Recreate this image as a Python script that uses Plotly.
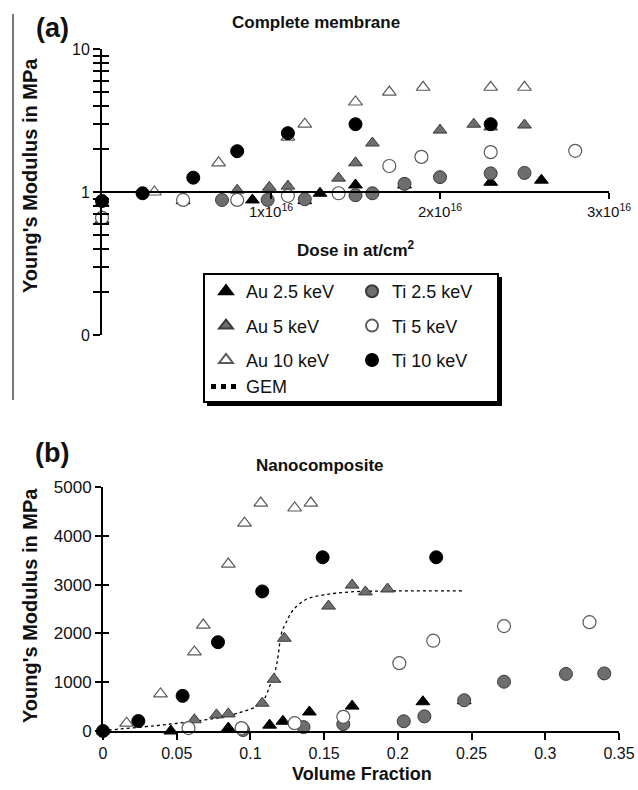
import plotly.graph_objects as go

W, H = 638, 790
FONT = "Liberation Sans, Arial, sans-serif"

# ---------------- Panel (a): complete membrane ----------------
a_au25_dose = [0.0, 0.48e16, 0.89e16, 1.20e16, 1.29e16, 1.50e16, 1.79e16, 2.30e16, 2.60e16]
a_au25_E = [0.64, 0.87, 0.88, 0.87, 0.98, 1.12, 1.12, 1.17, 1.21]
a_au5_dose = [0.0, 0.80e16, 0.99e16, 1.10e16, 1.40e16, 1.50e16, 1.60e16, 2.00e16, 2.20e16, 2.30e16, 2.50e16]
a_au5_E = [0.64, 1.03, 1.08, 1.10, 1.25, 1.60, 2.20, 2.71, 2.98, 2.85, 2.94]
a_au10_dose = [0.0, 0.31e16, 0.69e16, 1.10e16, 1.20e16, 1.50e16, 1.70e16, 1.90e16, 2.30e16, 2.50e16]
a_au10_E = [0.84, 1.0, 1.6, 2.42, 2.98, 4.26, 5.0, 5.4, 5.4, 5.4]
a_ti25_dose = [0.71e16, 0.98e16, 1.20e16, 1.50e16, 1.60e16, 1.79e16, 2.00e16, 2.30e16, 2.50e16]
a_ti25_E = [0.88, 0.88, 0.89, 0.95, 0.98, 1.14, 1.27, 1.35, 1.36]
a_ti5_dose = [0.0, 0.48e16, 0.80e16, 1.10e16, 1.40e16, 1.70e16, 1.89e16, 2.30e16, 2.80e16]
a_ti5_E = [0.66, 0.88, 0.88, 0.94, 0.98, 1.52, 1.76, 1.90, 1.94]
a_ti10_dose = [0.0, 0.24e16, 0.54e16, 0.80e16, 1.10e16, 1.50e16, 2.30e16]
a_ti10_E = [0.865, 0.98, 1.26, 1.93, 2.58, 2.98, 2.98]

a_xticks = [1e16, 2e16, 3e16]
a_xticktext = ["1x10<sup>16</sup>", "2x10<sup>16</sup>", "3x10<sup>16</sup>"]
a_yticks = [0.1, 1, 10]
a_yticktext = ["0", "1", "10"]
a_yminor = [0.2, 0.3, 0.4, 0.5, 0.6, 0.7, 0.8, 0.9, 2, 3, 4, 5, 6, 7, 8, 9]

# ---------------- Panel (b): nanocomposite ----------------
b_au25_vf = [0.046, 0.085, 0.113, 0.122, 0.140, 0.169, 0.217, 0.245]
b_au25_E = [0, 60, 120, 200, 390, 510, 600, 620]
b_au5_vf = [0.062, 0.077, 0.085, 0.108, 0.116, 0.123, 0.153, 0.169, 0.178, 0.193]
b_au5_E = [230, 330, 350, 570, 1060, 1900, 2560, 2990, 2850, 2910]
b_au10_vf = [0.0, 0.016, 0.039, 0.062, 0.068, 0.085, 0.096, 0.107, 0.130, 0.141]
b_au10_E = [0, 160, 760, 1620, 2170, 3420, 4260, 4670, 4570, 4670]
b_ti25_vf = [0.095, 0.136, 0.163, 0.204, 0.218, 0.245, 0.272, 0.314, 0.340]
b_ti25_E = [20, 80, 140, 200, 300, 630, 1010, 1170, 1180]
b_ti5_vf = [0.058, 0.094, 0.130, 0.163, 0.201, 0.224, 0.272, 0.330]
b_ti5_E = [60, 60, 160, 290, 1390, 1850, 2150, 2230]
b_ti10_vf = [0.0, 0.024, 0.054, 0.078, 0.108, 0.149, 0.226]
b_ti10_E = [0, 205, 720, 1820, 2860, 3560, 3560]
gem_vf = [0, 0.005, 0.036, 0.059, 0.082, 0.095, 0.104, 0.109, 0.113, 0.117,
          0.119, 0.121, 0.125, 0.129, 0.138, 0.150, 0.168, 0.200, 0.245]
gem_E = [0, 20, 110, 190, 290, 400, 500, 640, 910, 1250,
         1590, 2000, 2270, 2480, 2700, 2790, 2850, 2870, 2870]

b_xticks = [0, 0.05, 0.1, 0.15, 0.2, 0.25, 0.3, 0.35]
b_xticktext = ["0", "0.05", "0.1", "0.15", "0.2", "0.25", "0.3", "0.35"]
b_yticks = [0, 1000, 2000, 3000, 4000, 5000]

# ---------------- styles ----------------
GRAY = "#6e6e6e"
DARK = "#3a3a3a"
OPEN = "#5a5a5a"
styles = {
    "Au 2.5 keV": dict(symbol="triangle-up", color="black", line=dict(color="black", width=1), size=12),
    "Au 5 keV": dict(symbol="triangle-up", color=GRAY, line=dict(color=DARK, width=1), size=12),
    "Au 10 keV": dict(symbol="triangle-up", color="white", line=dict(color=OPEN, width=1.2), size=12),
    "Ti 2.5 keV": dict(symbol="circle", color=GRAY, line=dict(color=DARK, width=1), size=13),
    "Ti 5 keV": dict(symbol="circle", color="white", line=dict(color=OPEN, width=1.2), size=13),
    "Ti 10 keV": dict(symbol="circle", color="black", line=dict(color="black", width=1), size=13),
}
groups = {"Au 2.5 keV": "g1", "Au 5 keV": "g2", "Au 10 keV": "g3",
          "Ti 2.5 keV": "h1", "Ti 5 keV": "h2", "Ti 10 keV": "h3"}
legends = {"Au 2.5 keV": "legend", "Au 5 keV": "legend", "Au 10 keV": "legend",
           "Ti 2.5 keV": "legend2", "Ti 5 keV": "legend2", "Ti 10 keV": "legend2"}

series_a = [("Au 2.5 keV", a_au25_dose, a_au25_E), ("Au 5 keV", a_au5_dose, a_au5_E),
            ("Au 10 keV", a_au10_dose, a_au10_E), ("Ti 2.5 keV", a_ti25_dose, a_ti25_E),
            ("Ti 5 keV", a_ti5_dose, a_ti5_E), ("Ti 10 keV", a_ti10_dose, a_ti10_E)]
series_b = [("Au 2.5 keV", b_au25_vf, b_au25_E), ("Au 5 keV", b_au5_vf, b_au5_E),
            ("Au 10 keV", b_au10_vf, b_au10_E), ("Ti 2.5 keV", b_ti25_vf, b_ti25_E),
            ("Ti 5 keV", b_ti5_vf, b_ti5_E), ("Ti 10 keV", b_ti10_vf, b_ti10_E)]

fig = go.Figure()

# GEM line (panel b)
fig.add_trace(go.Scatter(x=gem_vf, y=gem_E, mode="lines", name="GEM",
                         line=dict(color="black", width=1.3, dash="dot", shape="spline"),
                         xaxis="x2", yaxis="y2", legend="legend", legendgroup="g3",
                         legendrank=4, cliponaxis=False))

for i, (name, xs, ys) in enumerate(series_a):
    fig.add_trace(go.Scatter(x=xs, y=ys, mode="markers", name=name, marker=styles[name],
                             xaxis="x", yaxis="y", showlegend=False,
                             legendgroup=groups[name], cliponaxis=False))
for i, (name, xs, ys) in enumerate(series_b):
    fig.add_trace(go.Scatter(x=xs, y=ys, mode="markers", name=name, marker=styles[name],
                             xaxis="x2", yaxis="y2", legend=legends[name],
                             legendgroup=groups[name], legendrank=(i % 3) + 1,
                             cliponaxis=False))

# invisible traces for overlay tick axes
fig.add_trace(go.Scatter(x=[], y=[], xaxis="x", yaxis="y3", showlegend=False))
fig.add_trace(go.Scatter(x=[], y=[], xaxis="x2", yaxis="y4", showlegend=False))

def px(x):
    return x / W

def py(y):
    return 1 - y / H

tickfont = dict(family=FONT, size=16, color="#111")
common_axis = dict(showgrid=False, zeroline=False, linecolor="black", linewidth=2,
                   tickcolor="black", tickwidth=2, automargin=False)

fig.update_layout(
    width=W, height=H, margin=dict(l=0, r=0, t=0, b=0, autoexpand=False),
    paper_bgcolor="white", plot_bgcolor="rgba(0,0,0,0)",
    font=dict(family=FONT, color="black"),
    xaxis=dict(domain=[px(102), px(609)], range=[0, 3e16], anchor="free", position=py(192),
               showline=True, ticks="outside", ticklen=6, tickvals=a_xticks,
               ticktext=a_xticktext, tickfont=dict(family=FONT, size=15, color="#111"),
               **common_axis),
    yaxis=dict(domain=[py(335), py(49)], type="log", range=[-1, 1], anchor="x",
               showline=True, ticks="outside", ticklen=7, tickvals=a_yticks,
               ticktext=a_yticktext, tickfont=dict(family=FONT, size=16, color="#111"),
               minor=dict(tickvals=a_yminor, ticks="outside", ticklen=7,
                          tickwidth=2, tickcolor="black"),
               **common_axis),
    yaxis3=dict(type="log", range=[-1, 1], overlaying="y", anchor="x", side="left",
                showline=False, showgrid=False, zeroline=False, ticks="inside", ticklen=7,
                tickwidth=2, tickcolor="black", tickvals=a_yticks, showticklabels=False,
                automargin=False,
                minor=dict(tickvals=a_yminor, ticks="inside", ticklen=7,
                           tickwidth=2, tickcolor="black")),
    xaxis2=dict(domain=[px(103), px(619)], range=[0, 0.35], anchor="y2",
                showline=True, ticks="outside", ticklen=7, tickvals=b_xticks,
                ticktext=b_xticktext, tickfont=tickfont, **common_axis),
    yaxis2=dict(domain=[py(731), py(487)], range=[0, 5000], anchor="x2",
                showline=True, ticks="outside", ticklen=6, tickvals=b_yticks,
                tickfont=dict(family=FONT, size=17, color="#111"), **common_axis),
    yaxis4=dict(range=[0, 5000], overlaying="y2", anchor="x2", side="left",
                showline=False, showgrid=False, zeroline=False, ticks="inside", ticklen=6,
                tickwidth=2, tickcolor="black", tickvals=b_yticks, showticklabels=False,
                automargin=False),
    legend=dict(x=px(206), y=py(273), xanchor="left", yanchor="top",
                bgcolor="rgba(0,0,0,0)", borderwidth=0, tracegroupgap=8,
                font=dict(family=FONT, size=18, color="#111"), itemsizing="constant",
                traceorder="grouped"),
    legend2=dict(x=px(352), y=py(273), xanchor="left", yanchor="top",
                 bgcolor="rgba(0,0,0,0)", borderwidth=0, tracegroupgap=8,
                 font=dict(family=FONT, size=18, color="#111"), itemsizing="constant",
                 traceorder="grouped"),
)

shapes = [
    # legend box shadow and box
    dict(type="rect", xref="paper", yref="paper", x0=px(207), x1=px(502), y0=py(406), y1=py(277),
         fillcolor="black", line=dict(width=0), layer="above"),
    dict(type="rect", xref="paper", yref="paper", x0=px(204), x1=px(498), y0=py(402), y1=py(274),
         fillcolor="white", line=dict(color="black", width=2), layer="above"),
    # left border line of panel (a)
    dict(type="line", xref="paper", yref="paper", x0=px(13), x1=px(13), y0=py(400), y1=py(14),
         line=dict(color="#777", width=2)),
]
fig.update_layout(shapes=shapes)

def ann(text, x, y, size, angle=0):
    return dict(text=text, x=px(x), y=py(y), xref="paper",
                yref="paper", showarrow=False, xanchor="center", yanchor="middle",
                textangle=angle,
                font=dict(family=FONT, size=size, color="#111", weight="bold"))

fig.update_layout(annotations=[
    ann("(a)", 52, 28, 27),
    ann("Complete membrane", 316, 22, 17),
    ann("Dose in at/cm<sup>2</sup>", 356, 249, 17),
    ann("Young's Modulus in MPa", 30, 176, 20, angle=-90),
    ann("(b)", 52, 453, 27),
    ann("Nanocomposite", 320, 465, 17),
    ann("Young's Modulus in MPa", 30, 606, 20, angle=-90),
    ann("Volume Fraction", 362, 774, 18),
])

fig.write_html(
    "out.html",
    config={"displayModeBar": False},
    post_script="document.body.style.margin='0';document.body.style.overflow='hidden';",
)
